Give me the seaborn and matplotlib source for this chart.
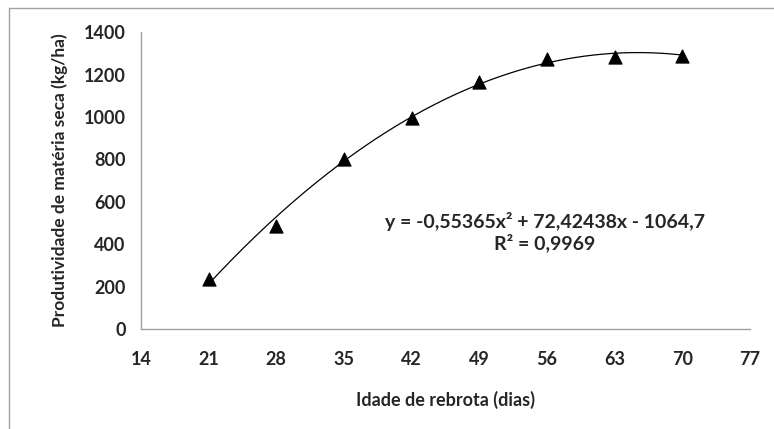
import matplotlib
matplotlib.use("Agg")
import matplotlib.pyplot as plt
import seaborn as sns
import numpy as np
import pandas as pd

days = [21, 28, 35, 42, 49, 56, 63, 70]
yield_kg = [235, 485, 800, 995, 1165, 1275, 1285, 1290]
coef = [-0.55365, 72.42438, -1064.7]
xticks = [14, 21, 28, 35, 42, 49, 56, 63, 70, 77]
yticks = [0, 200, 400, 600, 800, 1000, 1200, 1400]

sns.set_theme(style="white")
plt.rcParams['font.family'] = ['Lato', 'DejaVu Sans']

fig = plt.figure(figsize=(7.74, 4.29), dpi=100)
ax = fig.add_axes([0.182, 0.233, 0.787, 0.692])

df = pd.DataFrame({"x": days, "y": yield_kg})
xs = np.linspace(min(days), max(days), 200)
curve = pd.DataFrame({"x": xs, "y": np.polyval(coef, xs)})
sns.lineplot(data=curve, x="x", y="y", ax=ax, color="black", lw=0.9)
sns.scatterplot(data=df, x="x", y="y", ax=ax, marker="^", s=90, color="black",
                edgecolor="black", zorder=3)

ax.set_xlim(14, 77)
ax.set_ylim(0, 1400)
ax.set_xticks(xticks)
ax.set_yticks(yticks)
ax.set_xticklabels([str(v) for v in xticks], fontsize=13, fontweight="bold")
ax.set_yticklabels([str(v) for v in yticks], fontsize=13, fontweight="bold")
for s in ["top", "right"]:
    ax.spines[s].set_visible(False)
for s in ["left", "bottom"]:
    ax.spines[s].set_color("#a0a0a0")
    ax.spines[s].set_linewidth(1)
ax.tick_params(axis="both", direction="out", length=5, width=1, color="#a0a0a0", pad=6)
ax.tick_params(axis="x", pad=11)

ax.set_xlabel("Idade de rebrota (dias)", fontsize=13, fontweight="bold", labelpad=16)
ax.set_ylabel("Produtividade de matéria seca (kg/ha)", fontsize=12.5, fontweight="bold", labelpad=11)

ax.text(55.8, 508, "y = -0,55365x² + 72,42438x - 1064,7", ha="center", va="center",
        fontsize=14, fontweight="bold")
ax.text(55.8, 408, "R² = 0,9969", ha="center", va="center", fontsize=14, fontweight="bold")

# outer chart border (partially visible)
fig.add_artist(plt.Line2D([0.011, 1.0], [0.981, 0.981], transform=fig.transFigure, color="#a0a0a0", lw=1))
fig.add_artist(plt.Line2D([0.011, 0.011], [0.0, 0.981], transform=fig.transFigure, color="#a0a0a0", lw=1))

fig.savefig("out.png", dpi=100)
